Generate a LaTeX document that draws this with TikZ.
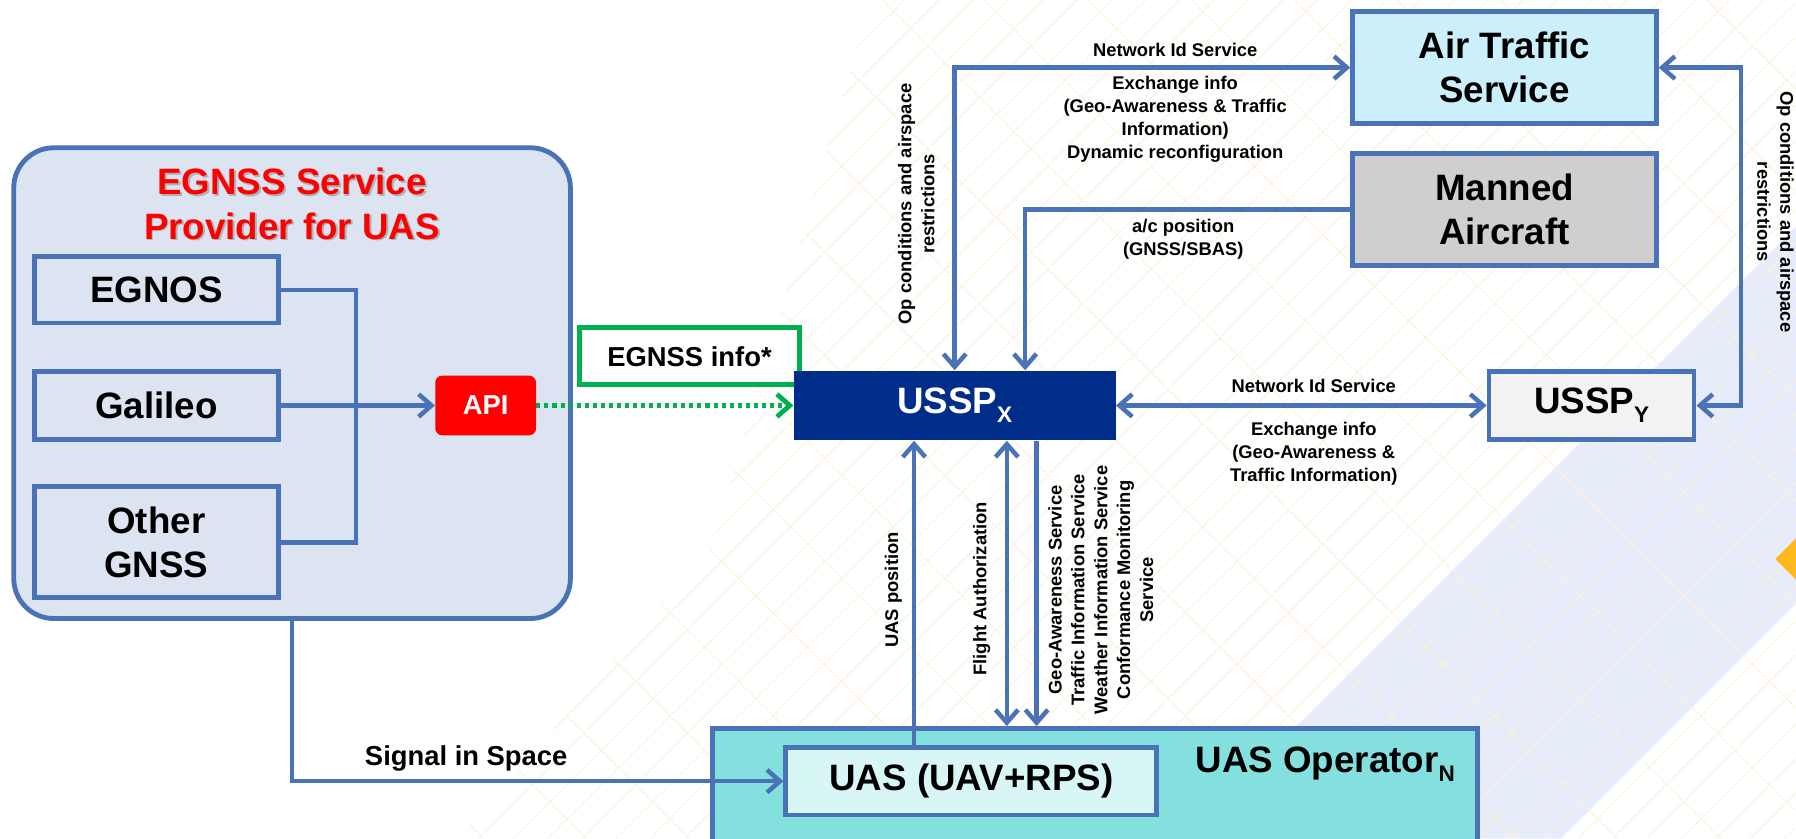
\documentclass[tikz,border=0pt]{standalone}
\usepackage{fontspec}
\setmainfont{Liberation Sans}
\usepackage{tikz}
\usetikzlibrary{arrows.meta}

\newlength\gu
\setlength\gu{0.025cm}
\definecolor{lineblue}{RGB}{74,114,182}
\definecolor{egnssbg}{RGB}{220,228,242}
\definecolor{egnssred}{RGB}{255,0,0}
\definecolor{apired}{RGB}{255,0,0}
\definecolor{infogreen}{RGB}{0,176,80}
\definecolor{usspblue}{RGB}{0,45,137}
\definecolor{atsbg}{RGB}{204,239,252}
\definecolor{mannedbg}{RGB}{208,206,206}
\definecolor{usspybg}{RGB}{242,242,242}
\definecolor{operbg}{RGB}{132,224,222}
\definecolor{uasbg}{RGB}{216,246,245}
\definecolor{bandblue}{RGB}{230,236,250}
\definecolor{gridcream}{RGB}{252,241,220}
\definecolor{diamondorange}{RGB}{255,184,28}
\newcommand{\lowsub}[1]{\raisebox{-0.25em}{\fontsize{14}{14}\selectfont #1}}

\begin{document}
\begin{tikzpicture}
				[x=\gu,y=-0.025cm,>={Straight Barb[length=8pt,width=14pt]},
				every node/.style={font=\bfseries},
				box/.style={draw=lineblue,line width=3pt,inner sep=0pt,align=center},
				wh/.style 2 args={minimum width=#1\gu,minimum height=#2\gu},
				big/.style={font=\fontsize{22.8}{27.6}\selectfont\bfseries,align=center},
				mid/.style={font=\fontsize{17}{20}\selectfont\bfseries},
				small/.style={font=\fontsize{11.4}{14.2}\selectfont\bfseries,align=center},
				link/.style={draw=lineblue,line width=2.8pt},
				gdot/.style={draw=infogreen,line width=3pt,dash pattern=on 2.5pt off 2.5pt},
				gridline/.style={draw=gridcream,line width=0.6pt}]
				\useasboundingbox (0,0) rectangle (1568,732);
				
				\fill[bandblue] (1034,732) -- (1568,198) -- (1568,527) -- (1363,732) -- cycle;
				\begin{scope}
				\clip (400,732) -- (620,480) -- (760,0) -- (1568,0) -- (1568,732) -- cycle;
				\foreach \d in {-760,-670,...,1600}
				{\draw[gridline] (\d,0) -- ++(732,732);}
				\foreach \d in {400,430,...,2350}
				{\draw[gridline] (\d,0) -- ++(-732,732);}
				\end{scope}
				\fill[diamondorange] (1550,488) -- (1580,458) -- (1610,488) -- (1580,518) -- cycle;
				
				\node[box,wh={486}{411},fill=egnssbg,rounded corners=35\gu] (egnss) at (255,334.5) {};
				\node[big,text=gray,opacity=.5] (titleshadow) at (256.5,179.5) {EGNSS Service\\Provider for UAS};
				\node[big,text=egnssred] (title) at (255,178) {EGNSS Service\\Provider for UAS};
				\node[box,big,wh={213}{58}] (egnos) at (136.5,253) {EGNOS};
				\node[box,big,wh={213}{59}] (galileo) at (136.5,354) {Galileo};
				\node[box,big,wh={213}{97}] (other) at (136.5,473.5) {Other\\GNSS};
				\node[fill=apired,rounded corners=6\gu,wh={88}{52},inner sep=0pt,mid,text=white] (api) at (424,354) {API};
				\node[draw=infogreen,line width=3pt,fill=white,wh={192}{50},inner sep=0pt,mid] (info) at (602,311) {EGNSS info*};
				\node[fill=usspblue,wh={281}{61},inner sep=0pt,big,text=white] (usspx) at (833.5,354) {USSP\lowsub{X}};
				\node[box,big,fill=atsbg,wh={265}{98}] (ats) at (1313.5,59) {Air Traffic\\Service};
				\node[box,big,fill=mannedbg,wh={265}{98}] (manned) at (1313.5,183) {Manned\\Aircraft};
				\node[box,big,fill=usspybg,wh={179}{59}] (usspy) at (1389.5,354) {USSP\lowsub{Y}};
				\node[box,fill=operbg,wh={668}{120}] (oper) at (956,696) {};
				\node[big] (operlabel) at (1157,667) {UAS Operator\lowsub{N}};
				\node[box,big,fill=uasbg,wh={324}{59}] (uas) at (848,682) {UAS (UAV+RPS)};
				
				\coordinate (merge) at (311,354);
				\coordinate (rbend) at (1520,200);
				\draw[link] (egnos.east) -| (merge) |- (other.east);
				\draw[link,->] (galileo.east) -- (api.west);
				\draw[gdot,->] (api.east) -- (usspx.west);
				\draw[link,<->] (usspx.north) |- (ats.west);
				\draw[link,->] (manned.west) -| ([xshift=61.5\gu]usspx.north);
				\draw[link,<->] (ats.east) -| (rbend) |- (usspy.east);
				\draw[link,<->] (usspx.east) -- (usspy.west);
				\draw[link,->] ([xshift=-50\gu]uas.north) -- ([xshift=-50\gu]uas.north |- usspx.south);
				\draw[link,<->] ([xshift=45.5\gu]usspx.south) -- ([xshift=45.5\gu]usspx.south |- oper.north);
				\draw[link,->] ([xshift=71.5\gu]usspx.south) -- ([xshift=71.5\gu]usspx.south |- oper.north);
				\draw[link,->] (egnss.south) |- (uas.west);
				
				\node[small] (nid1) at (1026,43.4) {Network Id Service};
				\node[small] (exch1) at (1026,104) {Exchange info\\(Geo-Awareness \& Traffic\\Information)\\Dynamic reconfiguration};
				\node[small] (acpos) at (1033,209) {a/c position\\(GNSS/SBAS)};
				\node[small,rotate=90] (opleft) at (800,178) {Op conditions and airspace\\restrictions};
				\node[small,rotate=-90] (opright) at (1550,185) {Op conditions and airspace\\restrictions};
				\node[small] (nid2) at (1147,337) {Network Id Service};
				\node[small] (exch2) at (1147,396) {Exchange info\\(Geo-Awareness \&\\Traffic Information)};
				\node[small,rotate=90] (uaspos) at (780,515) {UAS position};
				\node[small,rotate=90] (fauth) at (857,514) {Flight Authorization};
				\node[small,rotate=90] (services) at (961,515) {Geo-Awareness Service\\Traffic Information Service\\Weather Information Service\\Conformance Monitoring\\Service};
				\node[mid] (sis) at (407,662) {Signal in Space};
\end{tikzpicture}
\end{document}
